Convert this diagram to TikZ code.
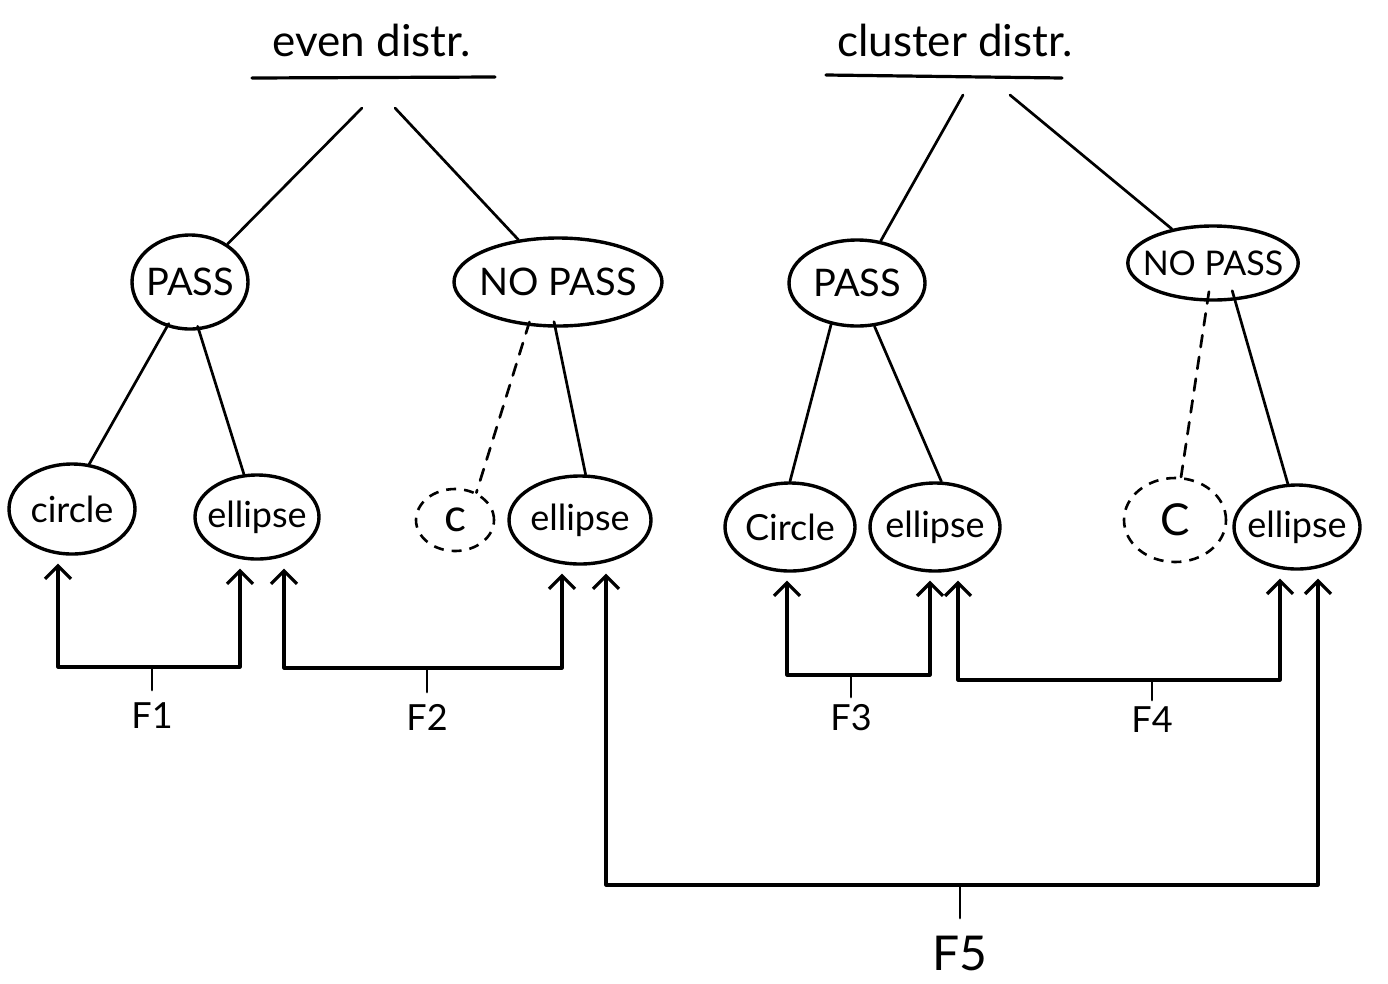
\documentclass[tikz,border=0pt]{standalone}
\usepackage{fontspec}
\setmainfont{Lato}
\usetikzlibrary{shapes.geometric,arrows.meta}
\tikzset{
  x=1pt, y=-1pt,
  ln/.style={line width=2.7pt, line cap=round, line join=round},
  bub/.style={draw, ellipse, line width=3.4pt, inner xsep=-10pt, inner ysep=-5pt},
  dbub/.style={bub, dashed, dash pattern=on 10pt off 8pt, line width=2.6pt},
  big/.style={font=\fontsize{38}{40}\selectfont},
  leaf/.style={font=\fontsize{36}{38}\selectfont},
  mid/.style={font=\fontsize{34}{36}\selectfont},
  ttl/.style={font=\fontsize{44}{46}\selectfont},
  brk/.style={ln, line width=3.2pt, {Straight Barb[length=13pt,width=26pt]}-{Straight Barb[length=13pt,width=26pt]}, shorten <=8pt, shorten >=8pt},
  lab/.style={font=\fontsize{36}{38}\selectfont},
}
\begin{document}
\begin{tikzpicture}
\useasboundingbox (0,0) rectangle (1388,983);
% titles
\node[ttl] (t1) at (372,40) {even distr.};
\node[ttl] (t2) at (955,40) {cluster distr.};
\draw[ln, line width=3.2pt] (252,78) -- (495,77);
\draw[ln, line width=3.2pt] (826,75) -- (1062,78);
\coordinate (t1a) at (362,108);
\coordinate (t1b) at (395,108);
\coordinate (t2a) at (963,95);
\coordinate (t2b) at (1010,95);
% middle nodes
\node[bub, big, minimum width=116pt, minimum height=94pt] (pass1) at (190,282) {PASS};
\node[bub, big, minimum width=208pt, minimum height=88pt] (nopass1) at (558,282) {NO PASS};
\node[bub, big, minimum width=136pt, minimum height=86pt] (pass2) at (857,283) {PASS};
\node[bub, mid, minimum width=170pt, minimum height=74pt] (nopass2) at (1213,263) {NO PASS};
% leaves
\node[bub, leaf, minimum width=126pt, minimum height=90pt] (circ1) at (72,509) {circle};
\node[bub, leaf, minimum width=124pt, minimum height=84pt] (ell1) at (257,517) {ellipse};
\node[dbub, font=\fontsize{46}{48}\selectfont, minimum width=78pt, minimum height=62pt] (c1) at (455,520) {c};
\node[bub, leaf, minimum width=142pt, minimum height=88pt] (ell2) at (580,520) {ellipse};
\node[bub, leaf, minimum width=130pt, minimum height=88pt] (circ2) at (790,527) {Circle};
\node[bub, leaf, minimum width=130pt, minimum height=88pt] (ell3) at (935,527) {ellipse};
\node[dbub, font=\fontsize{44}{46}\selectfont, minimum width=102pt, minimum height=84pt] (c2) at (1175,520) {C};
\node[bub, leaf, minimum width=126pt, minimum height=84pt] (ell4) at (1297,527) {ellipse};
% tree edges
\draw[ln] (t1a) -- (pass1);
\draw[ln] (t1b) -- (nopass1);
\draw[ln] (t2a) -- (pass2);
\draw[ln] (t2b) -- (nopass2);
\draw[ln] ([shift={(0,4pt)}]pass1.245) -- (circ1.69);
\draw[ln] ([shift={(0,4pt)}]pass1.279) -- (ell1.107);
\draw[ln, dashed, dash pattern=on 12pt off 10pt] ([shift={(0,4pt)}]nopass1.237) -- (c1.52);
\draw[ln] ([shift={(0,6pt)}]nopass1.265) -- (ell2.83);
\draw[ln] (pass2.238) -- (circ2.90);
\draw[ln] (pass2.292) -- (ell3.82);
\draw[ln, dashed, dash pattern=on 12pt off 10pt] ([shift={(0,10pt)}]nopass2.264) -- (c2.82);
\draw[ln] ([shift={(0,10pt)}]nopass2.297) -- (ell4.102);
% F1
\coordinate (b1l) at (58,667);
\coordinate (b1r) at (240,667);
\draw[brk] (b1l |- circ1.south) -- (b1l) -- (b1r) -- (b1r |- ell1.south);
\node[lab] (f1) at (152,716) {F1};
\coordinate (s1) at (152,690);
\draw[ln] (s1) -- (s1 |- b1l);
% F2
\coordinate (b2l) at (284,668);
\coordinate (b2r) at (562,668);
\draw[brk] (b2l |- ell1.south) -- (b2l) -- (b2r) -- (b2r |- ell2.south);
\node[lab] (f2) at (427,717) {F2};
\coordinate (s2) at (427,692);
\draw[ln] (s2) -- (s2 |- b2l);
% F3
\coordinate (b3l) at (787,675);
\coordinate (b3r) at (930,675);
\draw[brk] (b3l |- circ2.south) -- (b3l) -- (b3r) -- (b3r |- ell3.south);
\node[lab] (f3) at (851,718) {F3};
\coordinate (s3) at (851,697);
\draw[ln] (s3) -- (s3 |- b3l);
% F4
\coordinate (b4l) at (958,680);
\coordinate (b4r) at (1280,680);
\draw[brk] (b4l |- ell3.south) -- (b4l) -- (b4r) -- (b4r |- ell4.south);
\node[lab] (f4) at (1152,720) {F4};
\coordinate (s4) at (1152,700);
\draw[ln] (s4) -- (s4 |- b4l);
% F5
\coordinate (b5l) at (606,885);
\coordinate (b5r) at (1318,885);
\draw[brk] (b5l |- ell2.south) -- (b5l) -- (b5r) -- (b5r |- ell4.south);
\node[lab, font=\fontsize{48}{50}\selectfont] (f5) at (960,953) {F5};
\coordinate (s5) at (960,918);
\draw[ln] (s5) -- (s5 |- b5l);
\end{tikzpicture}
\end{document}
